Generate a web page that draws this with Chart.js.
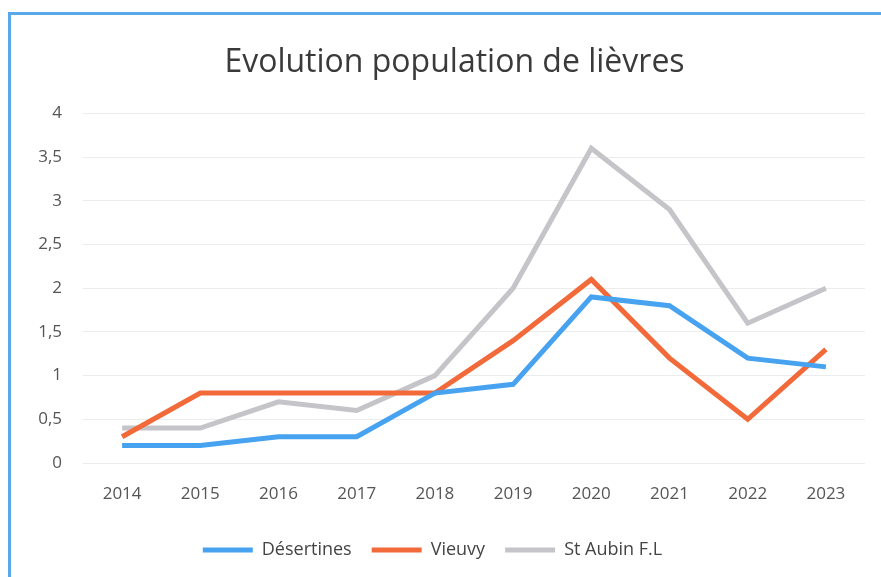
<!DOCTYPE html>
<html>
<head>
<meta charset="utf-8">
<script src="https://cdn.jsdelivr.net/npm/chart.js@4"></script>
<style>
  html, body { margin: 0; padding: 0; background: #fff; }
  #frame {
    position: absolute; left: 8px; top: 12px; width: 900px; height: 600px;
    border-top: 3px solid #5aa7ea; border-left: 3px solid #5aa7ea;
  }
  #wrap { position: absolute; left: 0; top: 0; width: 881px; height: 577px; }
</style>
</head>
<body>
<div id="frame"></div>
<div id="wrap"><canvas id="c"></canvas></div>
<script>
const years = ['2014', '2015', '2016', '2017', '2018', '2019', '2020', '2021', '2022', '2023'];
const desertines = [0.2, 0.2, 0.3, 0.3, 0.8, 0.9, 1.9, 1.8, 1.2, 1.1];
const vieuvy = [0.3, 0.8, 0.8, 0.8, 0.8, 1.4, 2.1, 1.2, 0.5, 1.3];
const stAubin = [0.4, 0.4, 0.7, 0.6, 1.0, 2.0, 3.6, 2.9, 1.6, 2.0];

const seriesNames = ['Désertines', 'Vieuvy', 'St Aubin F.L'];
const seriesColors = ['#47a3f0', '#f26a3a', '#c5c5c9'];

const mk = (i, data) => ({
  label: seriesNames[i],
  data,
  borderColor: seriesColors[i],
  backgroundColor: seriesColors[i],
  borderWidth: 5,
  pointRadius: 0,
  tension: 0,
});

const tickFont = { family: 'Open Sans', size: 17 };

// the title in the source sits a little right of the canvas centre
const shiftTitle = {
  id: 'shiftTitle',
  afterLayout(chart) {
    if (chart.titleBlock) {
      chart.titleBlock.left += 22;
      chart.titleBlock.right += 22;
    }
  },
};

new Chart(document.getElementById('c'), {
  type: 'line',
  data: {
    labels: years,
    datasets: [mk(0, desertines), mk(1, vieuvy), mk(2, stAubin)],
  },
  plugins: [shiftTitle],
  options: {
    animation: false,
    responsive: true,
    maintainAspectRatio: false,
    layout: { padding: { top: 14, right: 16, bottom: 8, left: 0 } },
    plugins: {
      title: {
        display: true,
        text: 'Evolution population de lièvres',
        color: '#3a3a3a',
        font: { family: 'Open Sans', size: 32, weight: 'normal' },
        padding: { top: 30, bottom: 31 },
      },
      legend: {
        position: 'bottom',
        labels: {
          color: '#444',
          font: { family: 'Open Sans', size: 18 },
          boxWidth: 50,
          boxHeight: 5,
          padding: 20,
          generateLabels: (chart) => chart.data.datasets.map((ds, i) => ({
            text: ds.label,
            fillStyle: ds.borderColor,
            strokeStyle: ds.borderColor,
            lineWidth: 0,
            fontColor: '#444',
            datasetIndex: i,
            hidden: false,
          })),
        },
      },
      tooltip: { enabled: false },
    },
    scales: {
      x: {
        offset: true,
        grid: { display: false, drawTicks: false },
        border: { display: false },
        ticks: { color: '#555', font: tickFont, padding: 21, maxRotation: 0 },
        afterFit: (s) => { s.height = 58; },
      },
      y: {
        min: 0,
        max: 4,
        grid: { color: '#ececec', drawTicks: false },
        border: { display: false },
        ticks: {
          stepSize: 0.5,
          color: '#555',
          font: tickFont,
          padding: 21,
          callback: (v) => String(v).replace('.', ','),
        },
        afterFit: (s) => { s.width = 83; },
      },
    },
  },
});
</script>
</body>
</html>
